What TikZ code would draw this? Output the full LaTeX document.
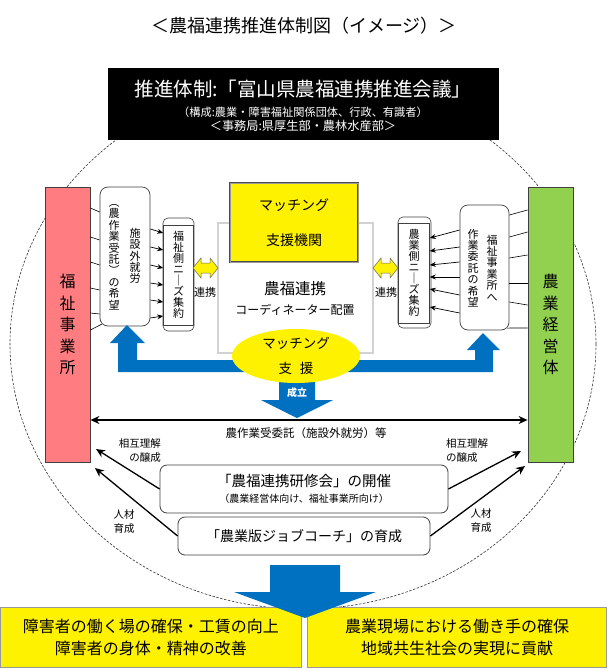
\documentclass[tikz,border=0pt]{standalone}
\usepackage{fontspec}
\setmainfont{Noto Sans CJK JP}
\usetikzlibrary{positioning,calc,shapes.geometric,arrows.meta}

\definecolor{fukushipink}{HTML}{FF7C80}
\definecolor{nougyougreen}{HTML}{92D050}
\definecolor{shienblue}{HTML}{0070C0}

\newcommand{\jfont}[2]{\fontsize{#1}{#2}\selectfont}

\begin{document}
\begin{tikzpicture}[x=1pt,y=-1pt,
    sidebox/.style={draw=black!75, line width=0.8pt, minimum width=45pt, minimum height=275pt, inner sep=0pt, align=center, font=\jfont{16}{21.5}},
    wishbox/.style={draw=black!75, line width=0.7pt, fill=white, rounded corners=8pt, inner sep=0pt},
    needsback/.style={draw=black!75, line width=0.6pt, fill=white, rounded corners=5pt, inner sep=0pt},
    needsbox/.style={draw=black!75, line width=0.6pt, fill=white, inner sep=0pt, align=center, font=\jfont{11}{11}},
    vcol/.style={inner sep=0pt, align=center, font=\jfont{11}{11.4}},
    yellowbox/.style={draw=black!70, double=black!40, double distance=0.5pt, fill=yellow, inner sep=0pt, align=center},
    roundbox/.style={draw=black!75, line width=0.8pt, fill=white, rounded corners=7pt, inner sep=0pt, align=center},
    linkarrow/.style={draw=gray!80!black, fill=yellow, line width=0.5pt},
    thinline/.style={line width=0.6pt},
    smallarrow/.style={line width=0.7pt, -{Stealth[length=6pt,width=5pt]}},
    bigarrow/.style={line width=1.3pt, -{Stealth[length=9pt,width=8pt]}},
    smalltext/.style={inner sep=0pt, font=\jfont{10.5}{14}}
  ]
    \useasboundingbox (0,0) rectangle (608,670);

    % Circle
    \draw[dash pattern=on 2.5pt off 1.5pt, line width=0.6pt, black!80] (303,344) ellipse [x radius=293pt, y radius=265pt];

    % Title
    \node[font=\jfont{18}{20}] (title) at (304,26) {＜農福連携推進体制図（イメージ）＞};

    % Council
    \node[fill=black, draw=black, minimum width=390pt, minimum height=71pt, inner sep=0pt] (council) at (303,103.5) {};
    \node[text=white, font=\jfont{19.5}{22}] (councilname) at (303,89) {推進体制:「富山県農福連携推進会議」};
    \node[text=white, font=\jfont{11.2}{12}] (members) at (303,112) {（構成:農業・障害福祉関係団体、行政、有識者）};
    \node[text=white, font=\jfont{12.2}{12}] (office) at (303,126) {＜事務局:県厚生部・農林水産部＞};

    % Bodies
    \node[sidebox, fill=fukushipink] (fukushi) at (67.5,324.5) {福\\祉\\事\\業\\所};
    \node[sidebox, fill=nougyougreen] (keiei) at (550.5,324.5) {農\\業\\経\\営\\体};

    % Wishes
    \node[wishbox, minimum width=50pt, minimum height=139pt] (wishL) at (125,256.5) {};
    \node[vcol] (wishLa) at (135,256) {施\\設\\外\\就\\労};
    \node[vcol] (wishLb) at (114,257) {︵\\農\\作\\業\\受\\託\\︶\\の\\希\\望};

    \node[wishbox, minimum width=49pt, minimum height=125pt] (wishR) at (484.5,267.5) {};
    \node[vcol] (wishRa) at (492,268) {福\\祉\\事\\業\\所\\へ};
    \node[vcol] (wishRb) at (473,268) {作\\業\\委\\託\\の\\希\\望};

    \foreach \ya/\yb in {208/212, 237/240, 262/265, 288/290, 313/314}
    \draw[thinline] (fukushi.east |- 0,\ya) -- (wishL.west |- 0,\yb);
    \draw[thinline] (fukushi.east |- 0,330) -- ($(wishL.south west)+(2.3,-2.3)$);

    \foreach \ya/\yb in {210/215, 232/237, 255/258, 283/283, 305/302}
    \draw[thinline] (keiei.west |- 0,\ya) -- (wishR.east |- 0,\yb);
    \draw[thinline] (keiei.west |- 0,328) -- ($(wishR.south east)+(-2.3,-2.3)$);

    % Needs
    \node[needsback, minimum width=31pt, minimum height=113pt] (needsLback) at (178.5,274.5) {};
    \node[needsbox, minimum width=30pt, minimum height=100pt] (needsL) at (178.5,275) {福\\祉\\側\\ニ\\｜\\ズ\\集\\約};
    \node[needsback, minimum width=33pt, minimum height=111pt] (needsRback) at (414.5,272.5) {};
    \node[needsbox, minimum width=31pt, minimum height=100pt] (needsR) at (414,273) {農\\業\\側\\ニ\\｜\\ズ\\集\\約};

    \foreach \ya/\yb in {229/233, 247/250, 265/268, 283/285, 300/302, 318/316}
    \draw[smallarrow] (wishL.east |- 0,\ya) -- (needsL.west |- 0,\yb);
    \foreach \ya/\yb in {230/238, 247/251, 262/265, 277/277, 295/289, 313/307}
    \draw[smallarrow] (wishR.west |- 0,\ya) -- (needsR.east |- 0,\yb);

    % Coordinator
    \node[draw=gray!75!black, double=gray!35, double distance=1.4pt, line width=0.6pt, fill=white, minimum width=155pt, minimum height=130pt, inner sep=0pt] (coordbox) at (295.5,288) {};
    \node[yellowbox, minimum width=128pt, minimum height=79pt, font=\jfont{14}{35}] (agency) at (294,222.5) {マッチング\\支援機関};
    \node[font=\jfont{15.5}{20}, align=center, inner sep=0pt] (coordtext) at (295,298) {農福連携\\{\jfont{12}{14}コーディネーター配置}};

    % Links
    \foreach \xa in {193,373}
    \draw[linkarrow] (\xa,268) -- ++(8,-10) -- ++(0,5) -- ++(9,0) -- ++(0,-5) -- ++(8,10)
      -- ++(-8,10) -- ++(0,-5) -- ++(-9,0) -- ++(0,5) -- cycle;
    \node[smalltext, font=\jfont{11}{12}] (linkL) at (205,292) {連携};
    \node[smalltext, font=\jfont{11}{12}] (linkR) at (386,292) {連携};

    % Matching support
    \fill[shienblue] (118,372) -- (118,343) -- (110,343) -- (127,325) -- (145,343) -- (137,343) -- (137,360)
      -- (475,360) -- (475,350) -- (467,350) -- (483,333) -- (500,350) -- (493,350) -- (493,372) -- cycle;
    \fill[shienblue] (279,378) -- (279,400) -- (261,400) -- (297,418) -- (333,400) -- (315,400) -- (315,378) -- cycle;
    \node[ellipse, fill=yellow, minimum width=128pt, minimum height=54pt, inner sep=0pt, align=center, font=\jfont{13.5}{25}] (matching) at (296,356) {マッチング\\支\hspace{8pt}援};
    \node[text=white, font=\bfseries\jfont{10}{12}] (seiritsu) at (297,393) {成立};

    % Outcome
    \draw[line width=1.2pt, {Stealth[length=9pt,width=8pt]}-{Stealth[length=9pt,width=8pt]}] (fukushi.east |- 0,420) -- (keiei.west |- 0,420);
    \node[smalltext, font=\jfont{11.5}{14}] (itaku) at (306,433) {農作業受委託（施設外就労）等};

    \node[smalltext, align=right, anchor=east] (sougoL) at (161,451) {相互理解\\の醸成};
    \node[smalltext, align=left, anchor=west] (sougoR) at (446,451) {相互理解\\の醸成};

    % Seminars
    \node[roundbox, minimum width=288pt, minimum height=48pt, font=\jfont{10}{16}] (kenshu) at (304,489) {{\jfont{14.5}{18}「農福連携研修会」の開催}\\{\jfont{10}{12}（農業経営体向け、福祉事業所向け）}};
    \node[roundbox, minimum width=252pt, minimum height=38pt, font=\jfont{14}{16}] (jobcoach) at (304,536) {「農業版ジョブコーチ」の育成};

    \coordinate (tipL1) at (96,449);
    \coordinate (tipL2) at (95,468);
    \coordinate (tipR1) at (521,451);
    \coordinate (tipR2) at (525,466);
    \draw[bigarrow] (kenshu.west) -- (tipL1);
    \draw[bigarrow] (jobcoach.west) -- (tipL2);
    \draw[bigarrow] (kenshu.east) -- (tipR1);
    \draw[bigarrow] (jobcoach.east) -- (tipR2);

    \node[smalltext, align=center] (jinzaiL) at (124,522) {人材\\育成};
    \node[smalltext, align=center] (jinzaiR) at (481,521) {人材\\育成};

    % Results
    \node[yellowbox, minimum width=301pt, minimum height=60pt, font=\jfont{16}{22}] (resultL) at (151,637.5) {障害者の働く場の確保・工賃の向上\\障害者の身体・精神の改善};
    \node[yellowbox, minimum width=299pt, minimum height=60pt, font=\jfont{16}{22}] (resultR) at (457,637.5) {農業現場における働き手の確保\\地域共生社会の実現に貢献};
    \fill[shienblue] (270,565) -- (270,592) -- (234,592) -- (305,618) -- (376,592) -- (340,592) -- (340,565) -- cycle;
\end{tikzpicture}
\end{document}
